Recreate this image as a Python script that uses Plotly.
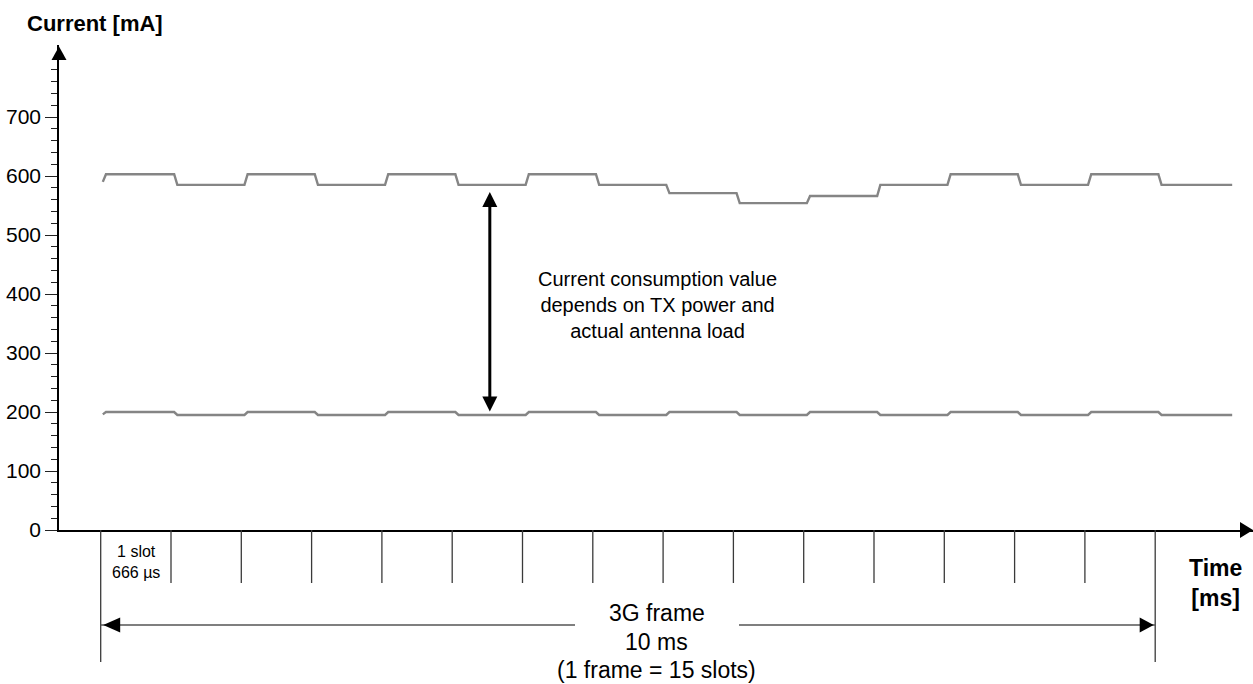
import plotly.graph_objects as go

# ---------------- data ----------------
SLOT_MS = 10.0 / 15.0            # one UMTS slot = 666 us
FRAME_SLOTS = 15
upper_levels_mA = [603, 585, 603, 585, 603, 585, 603, 585, 571, 554, 566, 585, 603, 585, 603, 585]
lower_levels_mA = [200, 195, 200, 195, 200, 195, 200, 195, 200, 195, 200, 195, 200, 195, 200, 195]
upper_start_mA = 590
lower_start_mA = 196
trace_start_ms = 0.02
trace_end_ms = 10.73
edge_delay_ms = 0.03
edge_ramp_ms = 0.03

y_major_ticks = [0, 100, 200, 300, 400, 500, 600, 700]
y_minor_ticks = [v for v in range(20, 800, 20) if v % 100 != 0]

arrow_x_ms = 3.69
arrow_top_mA = 573
arrow_bottom_mA = 201

# ---------------- geometry helpers (layout only) ----------------
W, H = 1253, 684
PLOT_L, PLOT_R, PLOT_T, PLOT_B = 59, 1253, 45, 530
X0_PX = 100.7                    # pixel of t = 0 ms
PX_PER_MS = 105.45
Y_TOP = (PLOT_B - PLOT_T) / 0.59

def xd(px):
    return (px - X0_PX) / PX_PER_MS

def py(px):
    return (PLOT_B - px) / (PLOT_B - PLOT_T)

def pxp(px):
    return (px - PLOT_L) / (PLOT_R - PLOT_L)


def build(levels, start):
    xs, ys = [trace_start_ms], [start]
    n = len(levels)
    for i, lv in enumerate(levels):
        ramp_start = trace_start_ms if i == 0 else i * SLOT_MS + edge_delay_ms
        xs.append(ramp_start + edge_ramp_ms)
        ys.append(lv)
        end = (i + 1) * SLOT_MS + edge_delay_ms if i < n - 1 else trace_end_ms
        xs.append(end)
        ys.append(lv)
    return xs, ys


FONT = "Liberation Sans, Arial, sans-serif"
fig = go.Figure()
for lv, st in ((upper_levels_mA, upper_start_mA), (lower_levels_mA, lower_start_mA)):
    xs, ys = build(lv, st)
    fig.add_trace(go.Scatter(x=xs, y=ys, mode="lines",
                             line=dict(color="#858585", width=2.4),
                             hoverinfo="skip", showlegend=False))

shapes = []
# axis arrows
shapes.append(dict(type="path", xref="paper", yref="paper", xsizemode="pixel", ysizemode="pixel",
                   xanchor=0, yanchor=1, path="M -7.5,-15 L 0,-1.5 L 7.5,-15 Z",
                   fillcolor="black", line=dict(width=0)))
shapes.append(dict(type="path", xref="paper", yref="paper", xsizemode="pixel", ysizemode="pixel",
                   xanchor=1, yanchor=0, path="M -13,8 L 0,0 L -13,-8 Z",
                   fillcolor="black", line=dict(width=0)))
# slot lines
for k in range(1, FRAME_SLOTS):
    shapes.append(dict(type="line", xref="x", yref="paper", x0=k * SLOT_MS, x1=k * SLOT_MS,
                       y0=0, y1=py(583), line=dict(color="#3a3a3a", width=1.3)))
for k in (0, FRAME_SLOTS):
    shapes.append(dict(type="line", xref="x", yref="paper", x0=k * SLOT_MS, x1=k * SLOT_MS,
                       y0=0, y1=py(662), line=dict(color="#3a3a3a", width=1.3)))
# frame arrow
fy = py(625)
frame_end = FRAME_SLOTS * SLOT_MS
shapes.append(dict(type="line", xref="x", yref="paper", x0=0, x1=xd(575), y0=fy, y1=fy,
                   line=dict(color="#555555", width=1.5)))
shapes.append(dict(type="line", xref="x", yref="paper", x0=xd(739), x1=frame_end, y0=fy, y1=fy,
                   line=dict(color="#555555", width=1.5)))
shapes.append(dict(type="path", xref="x", yref="paper", xsizemode="pixel", ysizemode="pixel",
                   xanchor=0, yanchor=fy, path="M 2.5,0 L 19.5,7.5 L 19.5,-7.5 Z",
                   fillcolor="black", line=dict(width=0)))
shapes.append(dict(type="path", xref="x", yref="paper", xsizemode="pixel", ysizemode="pixel",
                   xanchor=frame_end, yanchor=fy, path="M -1.5,0 L -15.5,7.5 L -15.5,-7.5 Z",
                   fillcolor="black", line=dict(width=0)))
# vertical double arrow
shapes.append(dict(type="line", xref="x", yref="y", x0=arrow_x_ms, x1=arrow_x_ms,
                   y0=arrow_bottom_mA + 20, y1=arrow_top_mA - 20,
                   line=dict(color="black", width=3)))
shapes.append(dict(type="path", xref="x", yref="y", xsizemode="pixel", ysizemode="pixel",
                   xanchor=arrow_x_ms, yanchor=arrow_top_mA, path="M 0,0 L -7.5,-15 L 7.5,-15 Z",
                   fillcolor="black", line=dict(width=0)))
shapes.append(dict(type="path", xref="x", yref="y", xsizemode="pixel", ysizemode="pixel",
                   xanchor=arrow_x_ms, yanchor=arrow_bottom_mA, path="M 0,0 L -7.5,15 L 7.5,15 Z",
                   fillcolor="black", line=dict(width=0)))

ann = []
ann.append(dict(text="Current [mA]", xref="paper", yref="paper", x=pxp(25), y=py(24),
                xanchor="left", yanchor="middle", showarrow=False,
                font=dict(family=FONT, size=22, color="black", weight="bold")))
ann.append(dict(text="Time<br>[ms]", xref="paper", yref="paper", x=pxp(1215), y=py(583),
                xanchor="center", yanchor="middle", showarrow=False,
                font=dict(family=FONT, size=23, color="black", weight="bold")))
ann.append(dict(text="1 slot<br>666 µs", xref="x", yref="paper", x=SLOT_MS / 2, y=py(561.5),
                xanchor="center", yanchor="middle", showarrow=False,
                font=dict(family=FONT, size=16, color="black")))
for txt, yp in (("3G frame", 613), ("10 ms", 642), ("(1 frame = 15 slots)", 670)):
    ann.append(dict(text=txt, xref="paper", yref="paper", x=pxp(656.7), y=py(yp),
                    xanchor="center", yanchor="middle", showarrow=False,
                    font=dict(family=FONT, size=23, color="black")))
ann.append(dict(text="Current consumption value<br>depends on TX power and<br>actual antenna load",
                xref="paper", yref="paper", x=pxp(657.5), y=py(305),
                xanchor="center", yanchor="middle", showarrow=False, align="center",
                font=dict(family=FONT, size=20, color="black")))

fig.update_layout(
    width=W, height=H,
    margin=dict(l=PLOT_L, r=W - PLOT_R, t=PLOT_T, b=H - PLOT_B, pad=0, autoexpand=False),
    paper_bgcolor="white", plot_bgcolor="white",
    shapes=shapes, annotations=ann, showlegend=False,
    xaxis=dict(range=[xd(PLOT_L), xd(PLOT_R)], showline=True, linecolor="black", linewidth=1.6,
               ticks="", showticklabels=False, showgrid=False, zeroline=False, fixedrange=True),
    yaxis=dict(range=[0, Y_TOP], showline=True, linecolor="black", linewidth=1.6,
               tickmode="array", tickvals=y_major_ticks, ticks="outside", ticklen=12,
               tickwidth=1.4, tickcolor="#222222", showgrid=False, zeroline=False,
               tickfont=dict(family=FONT, size=21, color="black"), fixedrange=True,
               minor=dict(tickmode="array", tickvals=y_minor_ticks, ticks="outside",
                          ticklen=6, tickwidth=1.2, tickcolor="#222222", showgrid=False)),
)

fig.write_html("out.html", config={"displayModeBar": False},
               post_script="document.body.style.margin='0';document.body.style.overflow='hidden';")
